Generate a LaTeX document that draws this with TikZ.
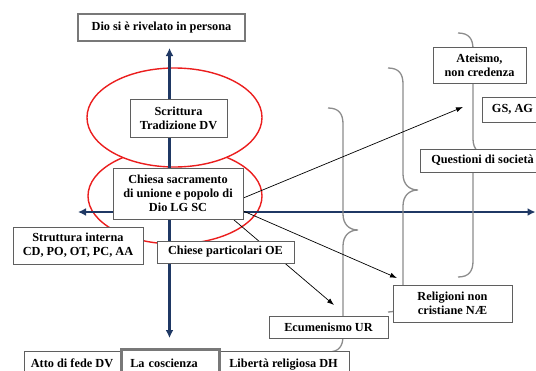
\documentclass[tikz,border=0pt]{standalone}
\usepackage{fontspec}
\setmainfont{Liberation Serif}
\usetikzlibrary{arrows.meta,backgrounds}
\definecolor{axisnavy}{RGB}{31,56,100}
\definecolor{ringred}{RGB}{235,30,30}
\definecolor{bracegray}{RGB}{140,140,140}
\definecolor{boxgray}{RGB}{95,95,95}
\definecolor{framegray}{RGB}{120,120,120}

\begin{document}
\begin{tikzpicture}[x=1pt, y=-1pt, >=Latex,
  font=\fontsize{12.3}{14}\selectfont\bfseries,
  box/.style={draw=boxgray, fill=white, inner sep=0pt, align=center},
  thickbox/.style={box, draw=framegray, line width=2.5pt},
  axis/.style={axisnavy, line width=2.8pt, >={Latex[length=8pt,width=8pt]}, <->},
  ring/.style={draw=ringred, fill=white, line width=1.4pt},
  curly/.style={bracegray, line width=1.3pt},
  link/.style={black, line width=0.7pt, -{Latex[length=7pt,width=5pt]}}]
\useasboundingbox (0,0) rectangle (536,370);

% boxes
\node[thickbox, minimum width=167, minimum height=27] (dio) at (161.5,27.5) {Dio si è rivelato in persona};
\node[box, minimum width=97, minimum height=38] (scrittura) at (178.5,118) {Scrittura\\Tradizione DV};
\node[box, minimum width=130, minimum height=51] (chiesa) at (178,193.5) {Chiesa sacramento\\di unione e popolo di\\Dio LG SC};
\node[box, minimum width=130, minimum height=37] (struttura) at (78,245.5) {Struttura interna\\CD, PO, OT, PC, AA};
\node[box, minimum width=137, minimum height=22] (particolari) at (225.5,252) {Chiese particolari OE};
\node[box, minimum width=119, minimum height=22] (ecumenismo) at (328.5,327) {Ecumenismo UR};
\node[box, minimum width=119, minimum height=37] (religioni) at (452.5,303.5) {Religioni non\\cristiane NÆ};
\node[box, minimum width=93, minimum height=36] (ateismo) at (479.5,65) {Ateismo,\\non credenza};
\node[box, minimum width=61, minimum height=25] (gsag) at (512.5,109.5) {GS, AG};
\node[box, minimum width=125, minimum height=23] (questioni) at (482.5,160.5) {Questioni di società};
\node[box, anchor=north, minimum width=96, inner ysep=8pt] (atto) at (72,351) {Atto di fede DV};
\node[box, anchor=north, minimum width=131, inner ysep=8pt] (liberta) at (283.5,351) {Libertà religiosa DH};
\node[thickbox, anchor=north west, text width=80, align=left, inner xsep=9pt, inner ysep=10pt] (coscienza) at (120,348) {La coscienza};

\begin{scope}[on background layer]
% rings
\draw[ring] (175,196) ellipse [x radius=87, y radius=48];
\draw[ring] (174.5,117.5) ellipse [x radius=87.5, y radius=49.5];
% axes
\coordinate (axtop) at (169.5,48);
\coordinate (axbot) at (169.5,338);
\coordinate (axleft) at (78,212);
\coordinate (axright) at (535.5,212);
\draw[axis] (axbot) -- (axtop);
\draw[axis] (axleft) -- (axright);
% braces
\draw[curly] (328,108) .. controls (339,108) and (343,114) .. (343,124) -- (343,214)
  .. controls (343,224) and (349,230) .. (358,230) .. controls (349,230) and (343,236) .. (343,246)
  -- (343,336) .. controls (343,346) and (339,352) .. (328,352);
\draw[curly] (388,68) .. controls (399,68) and (403,74) .. (403,84) -- (403,174)
  .. controls (403,184) and (409,190) .. (418,190) .. controls (409,190) and (403,196) .. (403,206)
  -- (403,296) .. controls (403,306) and (399,312) .. (388,312);
\draw[curly] (458,33) .. controls (469,33) and (473,39) .. (473,49) -- (473,139)
  .. controls (473,149) and (479,155) .. (488,155) .. controls (479,155) and (473,161) .. (473,171)
  -- (473,261) .. controls (473,271) and (469,277) .. (458,277);
% arrows
\coordinate (tipateismo) at (463,107);
\coordinate (tipreligioni) at (397,278);
\coordinate (tipecumenismo) at (334,305);
\draw[link] (chiesa.-4) -- (tipateismo);
\draw[link] (chiesa.-15) -- (tipreligioni);
\draw[link] (chiesa.-25) -- (tipecumenismo);
\end{scope}
\end{tikzpicture}
\end{document}
